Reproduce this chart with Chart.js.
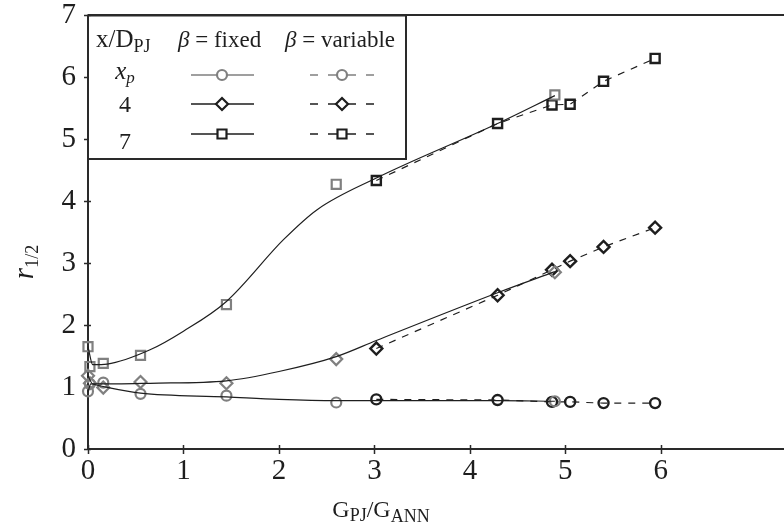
<!DOCTYPE html>
<html lang="en">
<head>
  <meta charset="UTF-8" />
  <title>r1/2 vs GPJ/GANN</title>
  <script src="https://cdn.jsdelivr.net/npm/chart.js"></script>
  <style>
    html, body { margin: 0; padding: 0; background: #fff; }
    #wrap { width: 784px; height: 529px; }
  </style>
</head>
<body>
  <div id="wrap"><canvas id="chart" width="784" height="529"></canvas></div>

  <script>
    // measured points, beta = fixed (grey markers)
    const fixedX = [0, 0.02, 0.16, 0.55, 1.45, 2.6, 4.89];
    const fixedCircle = [0.93, 1.05, 1.07, 0.89, 0.86, 0.75, 0.77];
    const fixedDiamond = [1.18, 1.06, 0.99, 1.08, 1.06, 1.45, 2.85];
    const fixedSquare = [1.65, 1.33, 1.38, 1.51, 2.33, 4.27, 5.71];

    // measured points, beta = variable (black markers, dashed)
    const varX = [3.02, 4.29, 4.86, 5.05, 5.40, 5.94];
    const varCircle = [0.80, 0.79, 0.76, 0.76, 0.74, 0.74];
    const varDiamond = [1.62, 2.48, 2.89, 3.03, 3.26, 3.57];
    const varSquare = [4.33, 5.25, 5.55, 5.56, 5.93, 6.30];

    // smooth fits through the fixed-beta data (solid lines)
    const circleFitX = [0, 0.03, 0.12, 0.55, 1.45, 2.0, 2.6, 3.02, 4.29, 4.89];
    const circleFitY = [0.92, 1.05, 1.02, 0.90, 0.84, 0.80, 0.78, 0.78, 0.78, 0.77];
    const diamondFitX = [0, 0.05, 0.3, 0.65, 1.45, 2.0, 2.6, 3.02, 4.29, 4.89];
    const diamondFitY = [1.18, 1.05, 1.05, 1.06, 1.10, 1.25, 1.49, 1.75, 2.52, 2.86];
    const squareFitX = [0, 0.05, 0.2, 0.65, 1.0, 1.45, 2.05, 2.4, 3.02, 4.29, 4.89];
    const squareFitY = [1.65, 1.36, 1.37, 1.60, 1.90, 2.38, 3.38, 3.86, 4.37, 5.25, 5.70];

    const xTicks = [0, 1, 2, 3, 4, 5, 6];
    const yTicks = [0, 1, 2, 3, 4, 5, 6, 7];

    const GREY = '#808080';
    const BLACK = '#1e1e1e';
    const SERIF = '"Liberation Serif", "DejaVu Serif", serif';

    const pts = (xs, ys) => xs.map((x, i) => ({ x: x, y: ys[i] }));

    function markers(xs, ys, style, radius, color) {
      return {
        data: pts(xs, ys),
        showLine: false,
        pointStyle: style,
        pointRadius: radius,
        pointBorderWidth: 2.2,
        pointBorderColor: color,
        pointBackgroundColor: 'rgba(255,255,255,0)',
        clip: false
      };
    }

    function dashed(xs, ys, style, radius) {
      return {
        data: pts(xs, ys),
        showLine: true,
        borderColor: BLACK,
        borderWidth: 1.2,
        borderDash: [7, 7],
        pointStyle: style,
        pointRadius: radius,
        pointBorderWidth: 2.4,
        pointBorderColor: BLACK,
        pointBackgroundColor: 'rgba(255,255,255,0)',
        clip: false
      };
    }

    function fit(xs, ys) {
      return {
        data: pts(xs, ys),
        showLine: true,
        borderColor: BLACK,
        borderWidth: 1.2,
        cubicInterpolationMode: 'monotone',
        pointRadius: 0,
        clip: false
      };
    }

    // draws a run of text pieces (for sub/superscripts), returns width
    function richText(ctx, parts, x, y, align) {
      let w = 0;
      parts.forEach(p => { ctx.font = p.font; w += ctx.measureText(p.t).width; });
      let cx = align === 'center' ? x - w / 2 : x;
      parts.forEach(p => {
        ctx.font = p.font;
        ctx.fillText(p.t, cx, y + (p.dy || 0));
        cx += ctx.measureText(p.t).width;
      });
      return w;
    }

    function shape(ctx, style, x, y, color) {
      ctx.save();
      ctx.strokeStyle = color;
      ctx.lineWidth = 2.2;
      ctx.fillStyle = '#fff';
      ctx.beginPath();
      if (style === 'circle') {
        ctx.arc(x, y, 5, 0, Math.PI * 2);
      } else if (style === 'rectRot') {
        ctx.moveTo(x - 6, y); ctx.lineTo(x, y - 6); ctx.lineTo(x + 6, y); ctx.lineTo(x, y + 6); ctx.closePath();
      } else {
        ctx.rect(x - 4.5, y - 4.5, 9, 9);
      }
      ctx.fill();
      ctx.stroke();
      ctx.restore();
    }

    const frame = {
      id: 'frame',
      beforeDatasetsDraw(chart) {
        const { ctx, chartArea: a, scales: { x, y } } = chart;
        const top = y.getPixelForValue(7);
        const bottom = y.getPixelForValue(0);
        ctx.save();
        ctx.strokeStyle = '#2a2a2a';
        ctx.lineWidth = 2;
        ctx.beginPath();
        ctx.moveTo(a.left, top); ctx.lineTo(chart.width, top);
        ctx.moveTo(a.left, top); ctx.lineTo(a.left, bottom);
        ctx.moveTo(a.left, bottom); ctx.lineTo(chart.width, bottom);
        ctx.stroke();
        ctx.lineWidth = 1.5;
        ctx.beginPath();
        xTicks.forEach(v => {
          const px = Math.round(x.getPixelForValue(v)) + 0.5;
          ctx.moveTo(px, bottom - 4); ctx.lineTo(px, bottom + 5);
        });
        yTicks.forEach(v => {
          const py = Math.round(y.getPixelForValue(v)) + 0.5;
          ctx.moveTo(a.left - 4, py); ctx.lineTo(a.left + 3, py);
        });
        ctx.stroke();
        ctx.restore();
      },
      afterDraw(chart) {
        const { ctx } = chart;
        ctx.save();
        ctx.fillStyle = BLACK;
        ctx.textBaseline = 'alphabetic';

        // axis titles
        richText(ctx, [
          { t: 'G', font: '24px ' + SERIF },
          { t: 'PJ', font: '18px ' + SERIF, dy: 4 },
          { t: '/G', font: '24px ' + SERIF },
          { t: 'ANN', font: '18px ' + SERIF, dy: 5 }
        ], 381, 517, 'center');

        ctx.save();
        ctx.translate(33, 262);
        ctx.rotate(-Math.PI / 2);
        richText(ctx, [
          { t: 'r', font: 'italic 29px ' + SERIF },
          { t: '1/2', font: '18px ' + SERIF, dy: 5 }
        ], 0, 0, 'center');
        ctx.restore();

        // legend table
        const L = 88, T = 15.5, R = 406, B = 159;
        ctx.fillStyle = '#fff';
        ctx.fillRect(L + 1, T + 1, R - L - 2, B - T - 2);
        ctx.strokeStyle = '#2a2a2a';
        ctx.lineWidth = 2;
        ctx.strokeRect(L, T, R - L, B - T);

        ctx.fillStyle = BLACK;
        richText(ctx, [
          { t: 'x/D', font: '25px ' + SERIF },
          { t: 'PJ', font: '18px ' + SERIF, dy: 5 }
        ], 96, 47, 'left');
        richText(ctx, [
          { t: 'β', font: 'italic 23px ' + SERIF },
          { t: ' = fixed', font: '23px ' + SERIF }
        ], 178, 47, 'left');
        richText(ctx, [
          { t: 'β', font: 'italic 23px ' + SERIF },
          { t: ' = variable', font: '23px ' + SERIF }
        ], 285, 47, 'left');

        const rows = [
          { label: [{ t: 'x', font: 'italic 25px ' + SERIF }, { t: 'p', font: 'italic 17px ' + SERIF, dy: 4 }], y: 75, base: 79, style: 'circle', color: GREY },
          { label: [{ t: '4', font: '24px ' + SERIF }], y: 104, base: 112, style: 'rectRot', color: BLACK },
          { label: [{ t: '7', font: '24px ' + SERIF }], y: 134, base: 149, style: 'rect', color: BLACK }
        ];
        rows.forEach(r => {
          ctx.fillStyle = BLACK;
          richText(ctx, r.label, 125, r.base, 'center');
          ctx.strokeStyle = r.color;
          ctx.lineWidth = 1.3;
          ctx.beginPath();
          ctx.moveTo(191, r.y); ctx.lineTo(254, r.y);
          [[310, 318], [328, 337], [347, 356], [366, 374]].forEach(d => {
            ctx.moveTo(d[0], r.y); ctx.lineTo(d[1], r.y);
          });
          ctx.stroke();
          shape(ctx, r.style, 222, r.y, r.color);
          shape(ctx, r.style, 342, r.y, r.color);
        });
        ctx.restore();
      }
    };

    new Chart(document.getElementById('chart'), {
      type: 'scatter',
      data: {
        datasets: [
          fit(circleFitX, circleFitY),
          fit(diamondFitX, diamondFitY),
          fit(squareFitX, squareFitY),
          markers(fixedX, fixedCircle, 'circle', 5, GREY),
          markers(fixedX, fixedDiamond, 'rectRot', 6, GREY),
          markers(fixedX, fixedSquare, 'rect', 6.4, GREY),
          dashed(varX, varCircle, 'circle', 5),
          dashed(varX, varDiamond, 'rectRot', 6),
          dashed(varX, varSquare, 'rect', 6.4)
        ]
      },
      options: {
        responsive: false,
        animation: false,
        events: [],
        layout: { autoPadding: false, padding: { top: 15, right: 0, left: 0, bottom: 0 } },
        plugins: { legend: { display: false }, tooltip: { enabled: false } },
        scales: {
          x: {
            type: 'linear',
            min: 0,
            max: 7.29,
            grid: { display: false },
            border: { display: false },
            afterBuildTicks: s => { s.ticks = xTicks.map(v => ({ value: v })); },
            afterFit: s => { s.height = 80; s.paddingLeft = 0; s.paddingRight = 0; },
            ticks: { color: BLACK, padding: -3, font: { family: SERIF, size: 29 } }
          },
          y: {
            type: 'linear',
            min: 0,
            max: 7,
            grid: { display: false },
            border: { display: false },
            afterBuildTicks: s => { s.ticks = yTicks.map(v => ({ value: v })); },
            afterFit: s => { s.width = 88; s.paddingTop = 0; s.paddingBottom = 0; },
            ticks: { color: BLACK, padding: 4, font: { family: SERIF, size: 29 } }
          }
        }
      },
      plugins: [frame]
    });
  </script>
</body>
</html>
